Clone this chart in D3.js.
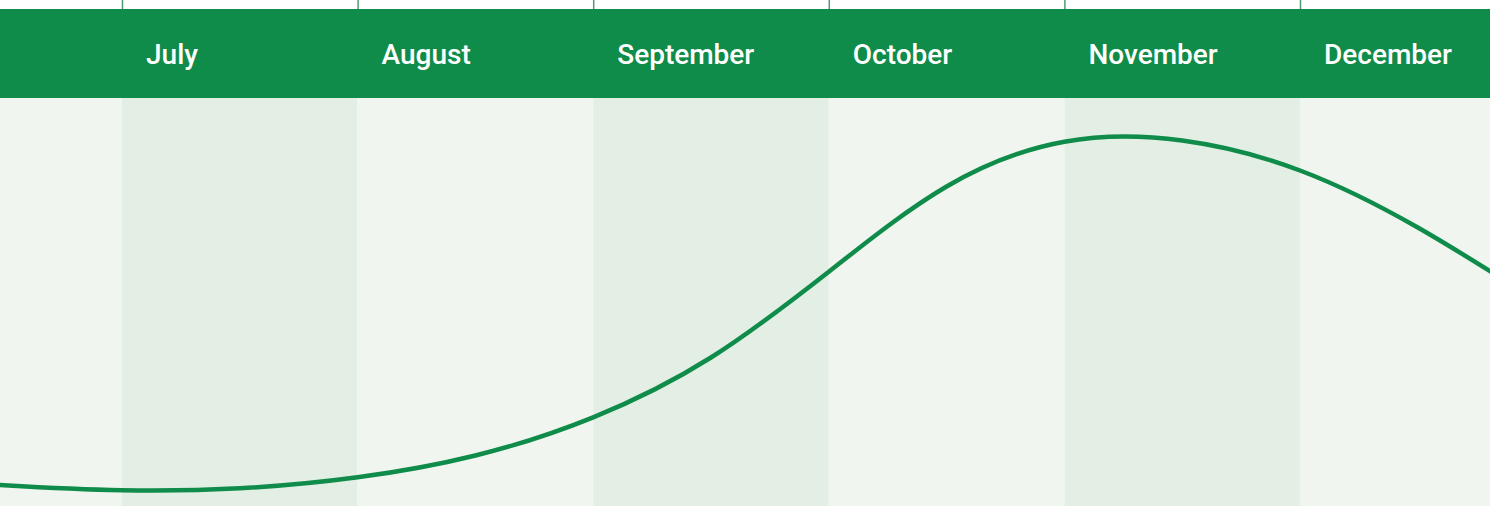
<!DOCTYPE html>
<html>
<head>
<meta charset="utf-8">
<script src="https://cdn.jsdelivr.net/npm/d3@7"></script>
<style>
  body { margin: 0; background: #fff; }
  svg { display: block; }
  .month { font-family: Roboto, "Noto Sans", sans-serif; font-weight: 500; fill: #fff; }
</style>
</head>
<body>
<script>
const width = 1493;
const height = 506;
const plotRight = 1490;
const headerTop = 9;
const headerBottom = 98;

// months on a uniform index: 0 = June ... 6 = December
const months = ["June", "July", "August", "September", "October", "November", "December"];
const labelMonths = ["July", "August", "September", "October", "November", "December"];

// curve sampled every half month (position in month index, value)
const monthPos = [0, 0.5, 1, 1.5, 2, 2.5, 3, 3.5, 4, 4.5, 5, 5.5, 6, 6.5, 7];
const values = [22, 14.7, 9.7, 11.7, 22.7, 44.5, 82.7, 142.5, 228.3, 313.5, 358.3, 359.5, 329.5, 272.5, 200];

const green = "#0f8c4a";
const bandLight = "#f0f5ef";
const bandDark = "#e3eee4";

const x = d3.scaleLinear().domain([1, 6]).range([122, 1300]);
const y = d3.scaleLinear().domain([0, 400]).range([500, 100]);

const svg = d3
  .select("body")
  .append("svg")
  .attr("width", width)
  .attr("height", height);

svg
  .append("clipPath")
  .attr("id", "plot-clip")
  .append("rect")
  .attr("x", 0)
  .attr("y", headerBottom)
  .attr("width", plotRight)
  .attr("height", height - headerBottom);

// alternating month bands
svg
  .append("g")
  .attr("clip-path", "url(#plot-clip)")
  .selectAll("rect")
  .data(months)
  .join("rect")
  .attr("x", (d, i) => x(i))
  .attr("y", headerBottom)
  .attr("width", (d, i) => x(i + 1) - x(i))
  .attr("height", height - headerBottom)
  .attr("fill", (d, i) => (i % 2 === 1 ? bandDark : bandLight));

// header strip
svg
  .append("rect")
  .attr("x", 0)
  .attr("y", headerTop)
  .attr("width", plotRight)
  .attr("height", headerBottom - headerTop)
  .attr("fill", green);

// month boundary ticks above the header
const axis = svg
  .append("g")
  .attr("transform", `translate(0,${headerTop})`)
  .call(
    d3
      .axisTop(x)
      .tickValues(d3.range(1, 7))
      .tickSize(headerTop)
      .tickFormat("")
  );
axis.select(".domain").remove();
axis.selectAll(".tick line").attr("stroke", "#4f9a72").attr("stroke-width", 1.5);

// month labels
svg
  .append("g")
  .selectAll("text")
  .data(labelMonths)
  .join("text")
  .attr("class", "month")
  .attr("x", (d, i) => x(i + 1) + 24)
  .attr("y", 64)
  .attr("font-size", 28)
  .text((d) => d);

// the curve
const line = d3
  .line()
  .x((d, i) => x(monthPos[i]))
  .y((d) => y(d))
  .curve(d3.curveNatural);

svg
  .append("path")
  .attr("clip-path", "url(#plot-clip)")
  .attr("d", line(values))
  .attr("fill", "none")
  .attr("stroke", green)
  .attr("stroke-width", 4.5)
  .attr("stroke-linecap", "round");
</script>
</body>
</html>
